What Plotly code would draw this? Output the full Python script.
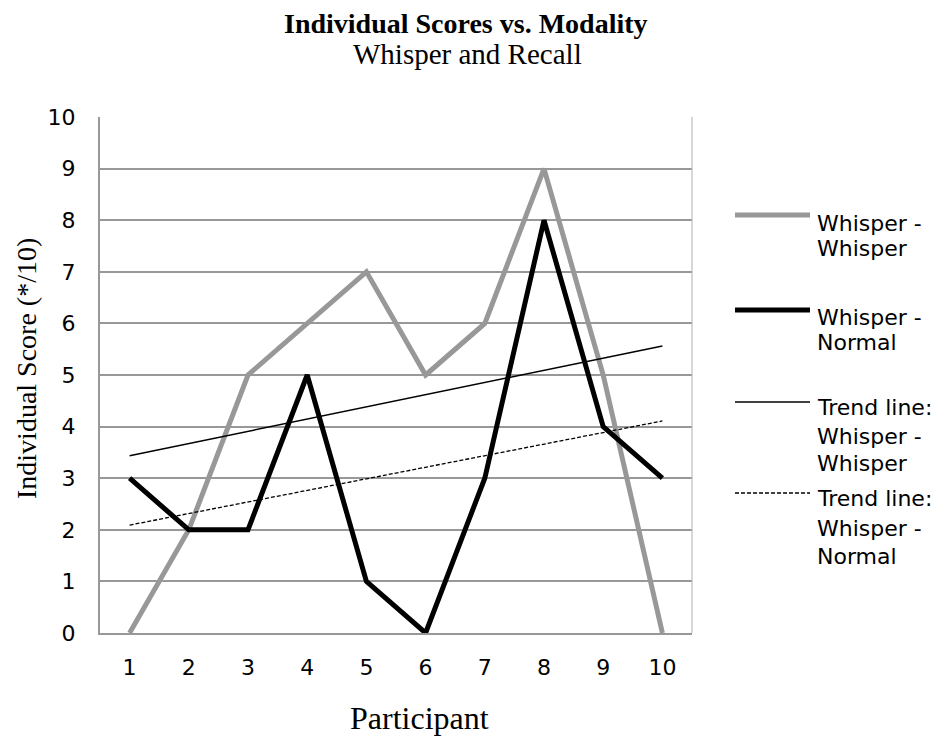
import numpy as np
import plotly.graph_objects as go

participants = [1, 2, 3, 4, 5, 6, 7, 8, 9, 10]
whisper_whisper = [0, 2, 5, 6, 7, 5, 6, 9, 5, 0]
whisper_normal = [3, 2, 2, 5, 1, 0, 3, 8, 4, 3]
y_ticks = [0, 1, 2, 3, 4, 5, 6, 7, 8, 9, 10]

x = np.array(participants, dtype=float)
fit_ww = np.polyfit(x, np.array(whisper_whisper, dtype=float), 1)
fit_wn = np.polyfit(x, np.array(whisper_normal, dtype=float), 1)
trend_ww = np.polyval(fit_ww, x)
trend_wn = np.polyval(fit_wn, x)

GRAY = "#989898"
fig = go.Figure()
fig.add_trace(go.Scatter(x=participants, y=whisper_whisper, mode="lines",
                         line=dict(color=GRAY, width=5), name="Whisper - Whisper"))
fig.add_trace(go.Scatter(x=participants, y=whisper_normal, mode="lines",
                         line=dict(color="black", width=5), name="Whisper - Normal"))
fig.add_trace(go.Scatter(x=participants, y=trend_ww, mode="lines",
                         line=dict(color="black", width=1.5), name="Trend line: Whisper - Whisper"))
fig.add_trace(go.Scatter(x=participants, y=trend_wn, mode="lines",
                         line=dict(color="black", width=1.3, dash="4px,2px"),
                         name="Trend line: Whisper - Normal"))

OFF = 8  # page body margin
W, H = 942 - OFF, 738 - OFF
L, R, T, B = 100 - OFF, 692 - OFF, 117 - OFF, 633 - OFF


def px(xp):
    return (xp - OFF - L) / (R - L)


def py(yp):
    return (B - (yp - OFF)) / (B - T)


SANS = "DejaVu Sans"
SERIF = "Liberation Serif"

# manual legend
legend_samples = [
    (215, dict(color=GRAY, width=5)),
    (310, dict(color="black", width=5)),
    (402, dict(color="black", width=1.5)),
    (493, dict(color="black", width=1.3, dash="4px,2px")),
]
for yy, ln in legend_samples:
    fig.add_shape(type="line", xref="paper", yref="paper",
                  x0=px(735), x1=px(810), y0=py(yy), y1=py(yy), line=ln)
legend_lines = [
    [("Whisper -", 223), ("Whisper", 248)],
    [("Whisper -", 317), ("Normal", 342)],
    [("Trend line:", 407), ("Whisper -", 436), ("Whisper", 463)],
    [("Trend line:", 498), ("Whisper -", 528), ("Normal", 556)],
]
for entry in legend_lines:
    for txt, yy in entry:
        fig.add_annotation(text=txt, xref="paper", yref="paper", x=px(815), y=py(yy),
                           xanchor="left", yanchor="middle", showarrow=False,
                           font=dict(family=SANS, size=22, color="black"))

# right border
fig.add_shape(type="line", xref="paper", yref="paper", x0=1, x1=1, y0=0, y1=1,
              line=dict(color="#b0b0b0", width=1))

# titles
fig.add_annotation(text="<b>Individual Scores vs. Modality</b>", xref="paper", yref="paper",
                   x=px(466), y=py(24), xanchor="center", yanchor="middle", showarrow=False,
                   font=dict(family=SERIF, size=28, color="black"))
fig.add_annotation(text="Whisper and Recall", xref="paper", yref="paper",
                   x=px(467), y=py(54), xanchor="center", yanchor="middle", showarrow=False,
                   font=dict(family=SERIF, size=29, color="black"))
fig.add_annotation(text="Individual Score (*/10)", xref="paper", yref="paper",
                   x=px(26), y=py(369), xanchor="center", yanchor="middle", showarrow=False,
                   textangle=-90, font=dict(family=SERIF, size=28, color="black"))
fig.add_annotation(text="Participant", xref="paper", yref="paper",
                   x=px(419), y=py(718), xanchor="center", yanchor="middle", showarrow=False,
                   font=dict(family=SERIF, size=32, color="black"))

fig.update_layout(
    width=W, height=H,
    margin=dict(l=L, r=W - R, t=T, b=H - B, pad=0),
    paper_bgcolor="white", plot_bgcolor="white",
    showlegend=False,
    xaxis=dict(range=[0.5, 10.5], tickmode="array", tickvals=participants,
               ticktext=[str(p) for p in participants], showgrid=False, zeroline=False,
               showline=True, linecolor=GRAY, linewidth=2, ticks="",
               ticklabelstandoff=14,
               tickfont=dict(family=SANS, size=22, color="black")),
    yaxis=dict(range=[0, 10], tickmode="array", tickvals=y_ticks,
               showgrid=True, gridcolor=GRAY, gridwidth=1.8, zeroline=False,
               showline=True, linecolor=GRAY, linewidth=2, ticks="",
               ticklabelstandoff=18,
               tickfont=dict(family=SANS, size=22, color="black")),
)

fig.write_html("out.html")
